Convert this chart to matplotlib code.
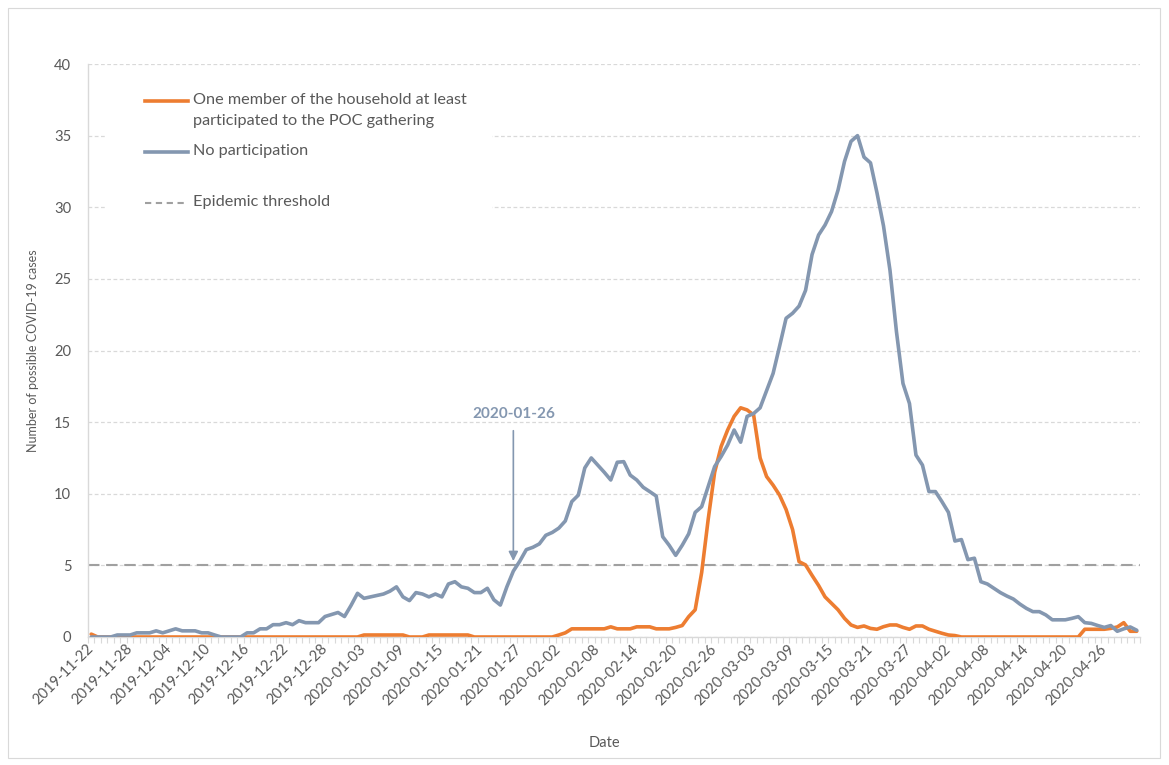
import matplotlib
matplotlib.use("Agg")
import matplotlib.pyplot as plt
import numpy as np
import pandas as pd
from matplotlib.lines import Line2D
from matplotlib.patches import Rectangle

plt.rcParams['font.family'] = ['Lato', 'DejaVu Sans']

# ---------------- data ----------------
start_date = "2019-11-22"
end_date = "2020-05-01"
dates = pd.date_range(start_date, end_date, freq="D")
date_labels = [d.strftime("%Y-%m-%d") for d in dates]
label_every = 6

participation = [
    0.2, 0, 0, 0, 0, 0, 0, 0, 0, 0,
    0, 0, 0, 0, 0, 0, 0, 0, 0, 0,
    0, 0, 0, 0, 0, 0, 0, 0, 0, 0,
    0, 0, 0, 0, 0, 0, 0, 0, 0, 0,
    0, 0, 0.14, 0.14, 0.14, 0.14, 0.14, 0.14, 0.14, 0,
    0, 0, 0.14, 0.14, 0.14, 0.14, 0.14, 0.14, 0.14, 0,
    0, 0, 0, 0, 0, 0, 0, 0, 0, 0,
    0, 0, 0.14, 0.29, 0.57, 0.57, 0.57, 0.57, 0.57, 0.57,
    0.71, 0.57, 0.57, 0.57, 0.71, 0.71, 0.71, 0.57, 0.57, 0.57,
    0.67, 0.8, 1.42, 1.9, 4.5, 8.2, 11.5, 13.3, 14.45, 15.4,
    16.0, 15.85, 15.5, 12.5, 11.2, 10.6, 9.9, 8.9, 7.5, 5.26,
    5.03, 4.3, 3.6, 2.8, 2.35, 1.9, 1.3, 0.84, 0.67, 0.77,
    0.6, 0.54, 0.72, 0.84, 0.84, 0.67, 0.54, 0.77, 0.77, 0.54,
    0.4, 0.26, 0.14, 0.1, 0, 0, 0, 0, 0, 0,
    0, 0, 0, 0, 0, 0, 0, 0, 0, 0,
    0, 0, 0, 0.54, 0.54, 0.54, 0.54, 0.6, 0.7, 1.0,
    0.4, 0.4,
]

no_participation = [
    0, 0, 0, 0, 0.14, 0.14, 0.14, 0.29, 0.29, 0.29,
    0.43, 0.29, 0.43, 0.57, 0.43, 0.43, 0.43, 0.29, 0.29, 0.14,
    0, 0, 0, 0, 0.29, 0.29, 0.57, 0.57, 0.86, 0.86,
    1.0, 0.86, 1.14, 1.0, 1.0, 1.0, 1.43, 1.57, 1.71, 1.43,
    2.2, 3.05, 2.7, 2.8, 2.9, 3.0, 3.2, 3.5, 2.8, 2.54,
    3.1, 3.0, 2.8, 3.0, 2.8, 3.7, 3.86, 3.5, 3.4, 3.1,
    3.1, 3.4, 2.6, 2.23, 3.5, 4.6, 5.3, 6.1, 6.26, 6.5,
    7.1, 7.3, 7.6, 8.1, 9.45, 9.9, 11.8, 12.5, 12.0, 11.5,
    10.96, 12.2, 12.24, 11.3, 10.96, 10.45, 10.15, 9.84, 7.0, 6.4,
    5.7, 6.4, 7.2, 8.7, 9.1, 10.5, 11.9, 12.6, 13.4, 14.45,
    13.6, 15.4, 15.6, 16.0, 17.2, 18.4, 20.3, 22.25, 22.6, 23.1,
    24.2, 26.7, 28.06, 28.76, 29.7, 31.2, 33.2, 34.6, 35.0, 33.5,
    33.1, 31.0, 28.7, 25.6, 21.3, 17.7, 16.3, 12.7, 12.0, 10.15,
    10.15, 9.45, 8.7, 6.7, 6.8, 5.4, 5.5, 3.86, 3.7, 3.4,
    3.1, 2.86, 2.65, 2.3, 2.0, 1.77, 1.77, 1.54, 1.2, 1.2,
    1.2, 1.3, 1.42, 1.0, 0.95, 0.8, 0.67, 0.8, 0.4, 0.57,
    0.7, 0.47,
]

epidemic_threshold = 5
annotation_date = "2020-01-26"
annotation_text_y = 15.6
annotation_arrow_top = 14.4
annotation_arrow_tip = 5.3

series_labels = ["One member of the household at least\nparticipated to the POC gathering",
                 "No participation", "Epidemic threshold"]
y_ticks = [0, 5, 10, 15, 20, 25, 30, 35, 40]

# ---------------- style ----------------
ORANGE = "#ED7D31"
BLUEGRAY = "#8497B0"
THRESH = "#A0A0A0"
GRID = "#D9D9D9"
TEXT = "#595959"
LW = 2.6

W, H = 1169, 765
fig = plt.figure(figsize=(W / 100, H / 100), dpi=100)
fig.patch.set_facecolor("white")


def fx(px):
    return px / W


def fy(py):
    return 1 - py / H


ax = fig.add_axes([fx(88), fy(637), fx(1140) - fx(88), fy(64) - fy(637)])

n = len(dates)
x = np.arange(n)

ax.plot(x, participation, color=ORANGE, lw=LW, solid_joinstyle="round",
        solid_capstyle="round", zorder=3)
ax.plot(x, no_participation, color=BLUEGRAY, lw=LW, solid_joinstyle="round",
        solid_capstyle="round", zorder=4)
ax.axhline(epidemic_threshold, color=THRESH, lw=1.5, linestyle=(0, (5.5, 3.2)), zorder=2)

ax.set_xlim(-0.5, n - 0.5)
ax.set_ylim(0, 40)
ax.set_yticks(y_ticks)
ax.set_yticklabels([str(v) for v in y_ticks])

major = list(range(0, n, label_every))
ax.set_xticks(major)
ax.set_xticklabels([date_labels[i] for i in major])
ax.set_xticks(np.arange(-0.5, n, 1), minor=True)

ax.tick_params(axis="x", which="major", length=0, pad=7, labelsize=10.6, colors=TEXT)
ax.tick_params(axis="x", which="minor", length=4, width=0.8, color=GRID, direction="out")
ax.tick_params(axis="y", which="major", length=0, pad=12, labelsize=10.6, colors=TEXT)
for lbl in ax.get_xticklabels():
    lbl.set_rotation(45)
    lbl.set_ha("right")
    lbl.set_va("center")
    lbl.set_rotation_mode("anchor")

ax.yaxis.grid(True, color=GRID, lw=0.9, linestyle=(0, (3, 2)))
ax.set_axisbelow(True)
for s in ["top", "right"]:
    ax.spines[s].set_visible(False)
for s in ["left", "bottom"]:
    ax.spines[s].set_color(GRID)
    ax.spines[s].set_linewidth(1.0)

# annotation
ai = date_labels.index(annotation_date)
ax.annotate("", xy=(ai, annotation_arrow_tip), xytext=(ai, annotation_arrow_top),
            arrowprops=dict(arrowstyle="-|>", color=BLUEGRAY, lw=1.2,
                            mutation_scale=14, shrinkA=0, shrinkB=0), zorder=5)
ax.text(ai, annotation_text_y, annotation_date, ha="center", va="center",
        fontsize=11, fontweight="bold", color=BLUEGRAY, zorder=5)

# legend (manual, Excel-like)
ax.add_patch(Rectangle((fx(106), fy(226)), fx(492) - fx(106), fy(78) - fy(226),
                       transform=fig.transFigure, facecolor="white", edgecolor="none",
                       zorder=1.5))
hx0, hx1, tx = 145, 188, 193
LFS = 11.7
fig.add_artist(Line2D([fx(hx0), fx(hx1)], [fy(101), fy(101)], color=ORANGE, lw=LW))
l1, l2 = series_labels[0].split("\n")
fig.text(fx(tx), fy(100), l1, ha="left", va="center", fontsize=LFS, color=TEXT)
fig.text(fx(tx), fy(121.5), l2, ha="left", va="center", fontsize=LFS, color=TEXT)
fig.add_artist(Line2D([fx(hx0), fx(hx1)], [fy(152), fy(152)], color=BLUEGRAY, lw=LW))
fig.text(fx(tx), fy(151), series_labels[1], ha="left", va="center", fontsize=LFS, color=TEXT)
fig.add_artist(Line2D([fx(hx0), fx(hx1)], [fy(203), fy(203)], color=THRESH, lw=1.5,
                      linestyle=(0, (3, 2.2))))
fig.text(fx(tx), fy(202), series_labels[2], ha="left", va="center", fontsize=LFS, color=TEXT)

# axis titles
fig.text(fx(33), fy(351), "Number of possible COVID-19 cases", rotation=90,
         ha="center", va="center", fontsize=9, color=TEXT)
fig.text(fx(604), fy(743), "Date", ha="center", va="center", fontsize=10.5, color=TEXT)

# chart border
fig.add_artist(Rectangle((fx(8), fy(758)), fx(1160) - fx(8), fy(8) - fy(758),
                         transform=fig.transFigure, facecolor="none",
                         edgecolor=GRID, lw=0.8))

fig.savefig("out.png", dpi=100)
